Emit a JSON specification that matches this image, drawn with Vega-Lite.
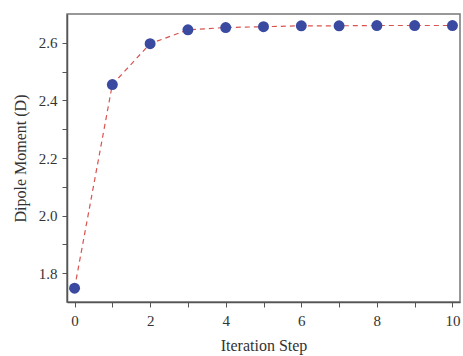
{
  "$schema": "https://vega.github.io/schema/vega-lite/v6.json",
  "width": 393,
  "height": 288,
  "autosize": {"type": "none"},
  "padding": {"left": 67, "top": 14, "right": 3, "bottom": 54},
  "background": "white",
  "config": {
    "view": {"stroke": "#777", "strokeWidth": 1.5},
    "font": "Liberation Serif",
    "axis": {
      "labelFont": "Liberation Serif",
      "titleFont": "Liberation Serif",
      "labelFontSize": 15,
      "titleFontSize": 16,
      "titleFontWeight": "normal",
      "labelColor": "#333",
      "titleColor": "#333",
      "domainColor": "#555",
      "domainWidth": 1.5,
      "tickColor": "#555",
      "tickSize": 5,
      "grid": false
    }
  },
  "data": {
    "values": [
      {"step": 0, "dipole": 1.748},
      {"step": 1, "dipole": 2.455},
      {"step": 2, "dipole": 2.597},
      {"step": 3, "dipole": 2.645},
      {"step": 4, "dipole": 2.653},
      {"step": 5, "dipole": 2.656},
      {"step": 6, "dipole": 2.659},
      {"step": 7, "dipole": 2.659},
      {"step": 8, "dipole": 2.660},
      {"step": 9, "dipole": 2.660},
      {"step": 10, "dipole": 2.660}
    ]
  },
  "encoding": {
    "x": {
      "field": "step",
      "type": "quantitative",
      "scale": {"domain": [-0.2, 10.2], "nice": false, "zero": false},
      "axis": {
        "title": "Iteration Step",
        "values": [0,1,2,3,4,5,6,7,8,9,10],
        "labelExpr": "datum.value % 2 == 0 ? datum.label : ''",
        "labelPadding": 6,
        "titlePadding": 9
      }
    },
    "y": {
      "field": "dipole",
      "type": "quantitative",
      "scale": {"domain": [1.7, 2.7], "nice": false, "zero": false},
      "axis": {
        "title": "Dipole Moment (D)",
        "values": [1.8,1.9,2.0,2.1,2.2,2.3,2.4,2.5,2.6],
        "format": ".1f",
        "labelExpr": "round(datum.value*10) % 2 == 0 ? datum.label : ''",
        "labelPadding": 5,
        "titlePadding": 10
      }
    }
  },
  "layer": [
    {
      "mark": {"type": "line", "color": "#d9534f", "strokeWidth": 1.2, "strokeDash": [5, 4]}
    },
    {
      "mark": {"type": "point", "filled": true, "color": "#3a4aa0", "opacity": 1, "size": 120}
    }
  ]
}
